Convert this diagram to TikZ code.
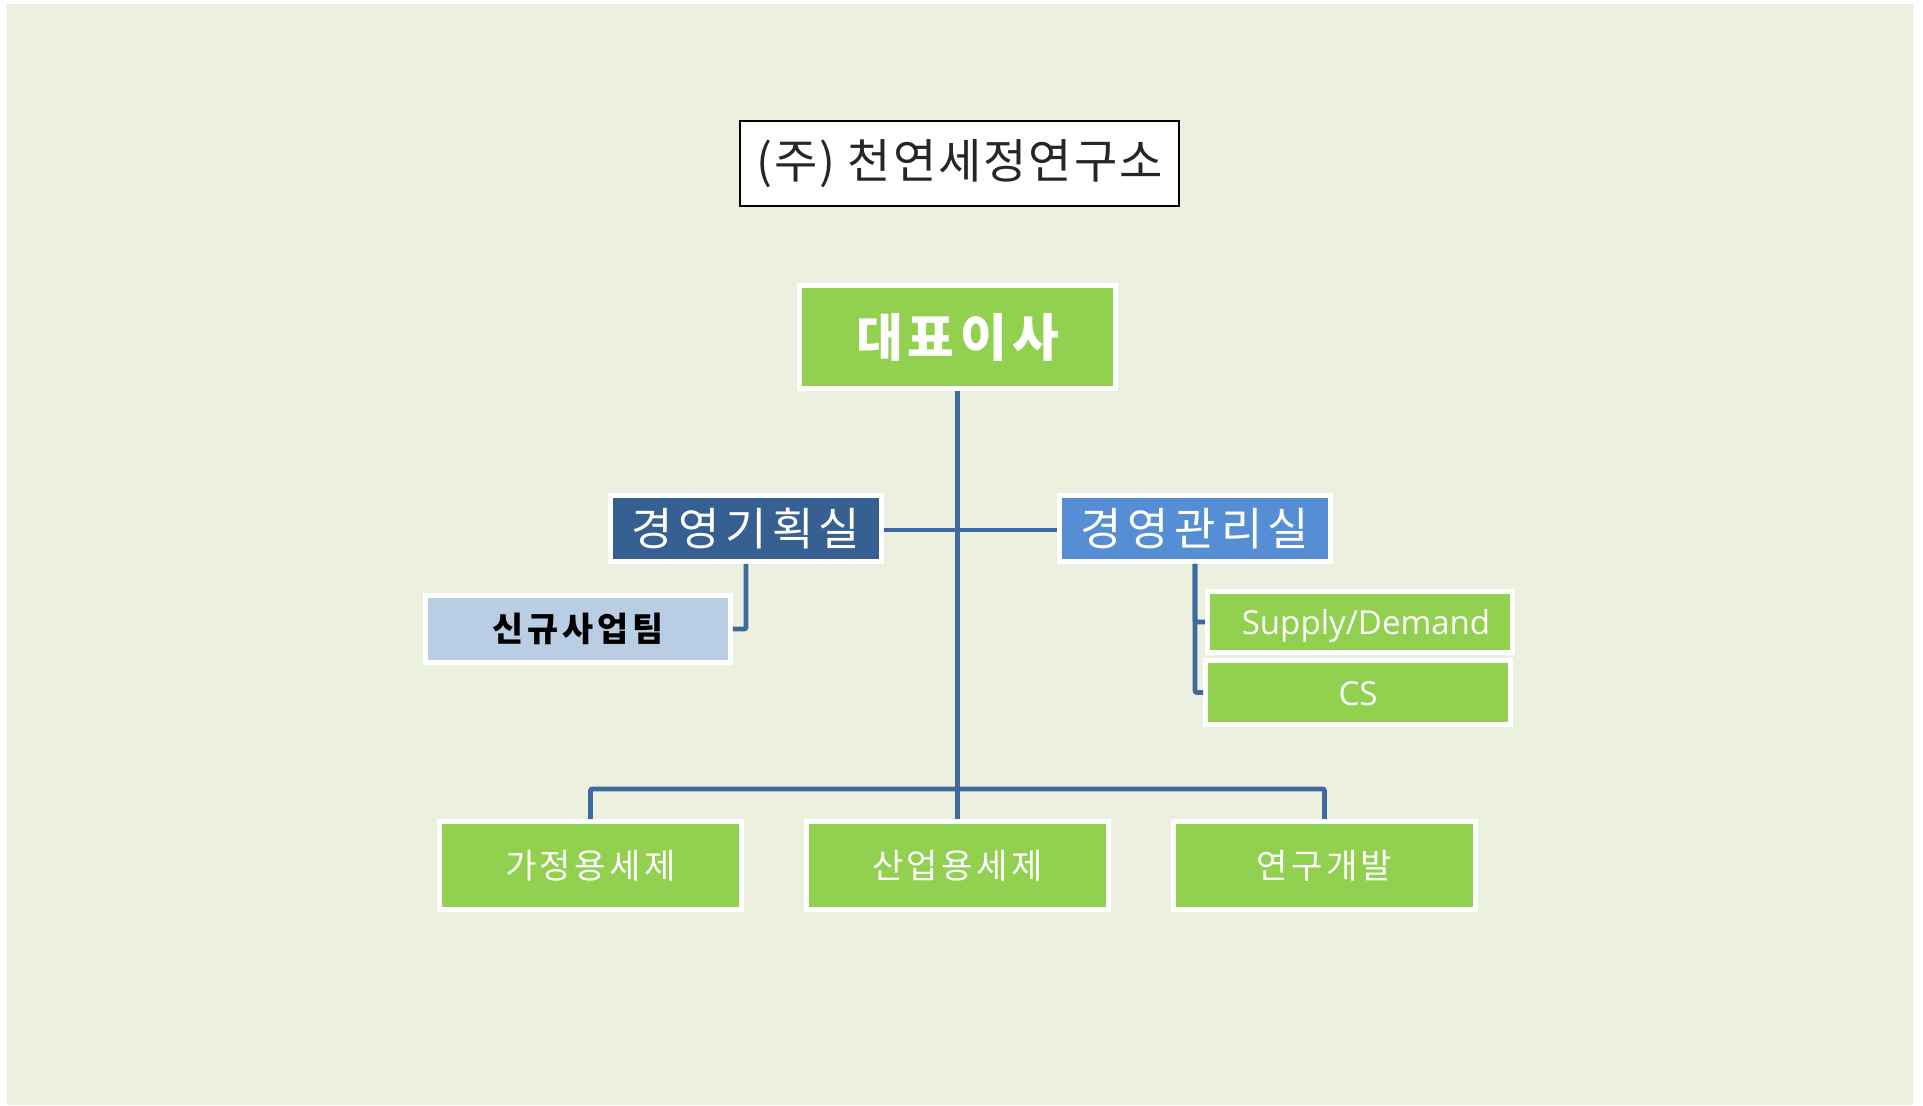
\documentclass[tikz,border=0pt]{standalone}
\usepackage{fontspec}
\setmainfont{Noto Sans CJK KR}
\newfontfamily\latinfont{Open Sans}
\usetikzlibrary{positioning}
\definecolor{bgolive}{HTML}{EBF1DE}
\definecolor{officegreen}{HTML}{92D050}
\definecolor{darkblue}{HTML}{376092}
\definecolor{midblue}{HTML}{558ED5}
\definecolor{paleblue}{HTML}{B9CDE5}
\definecolor{linkblue}{HTML}{3E6A9F}
\definecolor{titlegray}{HTML}{262626}

\begin{document}
\begin{tikzpicture}[x=0.01cm,y=-0.01cm,
  orgbox/.style={draw=white,line width=1.3pt,inner sep=0pt},
  greenbox/.style={orgbox,fill=officegreen,text=white},
  smallbox/.style={greenbox,minimum width=3.02cm,minimum height=0.88cm,font=\fontsize{9.7pt}{11pt}\selectfont\addfontfeatures{LetterSpace=10}},
  latinbox/.style={greenbox,minimum width=3.05cm,text height=0.714em,text depth=0pt,font=\latinfont\fontsize{9.4pt}{11pt}\selectfont},
  link/.style={draw=linkblue,line width=1.4pt,rounded corners=0.6pt}]
\useasboundingbox (0,0) rectangle (1923,1105);
\fill[bgolive] (7,4) rectangle (1913,1105);
\node[draw=black,line width=0.6pt,fill=white,text=titlegray,minimum width=4.39cm,minimum height=0.85cm,inner sep=0pt,font=\fontsize{13.4pt}{15pt}\selectfont\addfontfeatures{LetterSpace=4}] (firma) at (959.5,163.5) {(주) 천연세정연구소};
\node[greenbox,minimum width=3.16cm,minimum height=1.03cm,font=\bfseries\fontsize{14.5pt}{16pt}\selectfont\addfontfeatures{LetterSpace=10}] (ceo) at (957.5,337) {대표이사};
\node[orgbox,fill=darkblue,text=white,minimum width=2.71cm,minimum height=0.66cm,font=\fontsize{12.8pt}{14pt}\selectfont\addfontfeatures{LetterSpace=12}] (planung) at (746,528.5) {경영기획실};
\node[orgbox,fill=midblue,text=white,minimum width=2.71cm,minimum height=0.66cm,font=\fontsize{12.8pt}{14pt}\selectfont\addfontfeatures{LetterSpace=12}] (verwaltung) at (1195,528.5) {경영관리실};
\node[orgbox,fill=paleblue,text=black,minimum width=3.05cm,minimum height=0.67cm,font=\bfseries\fontsize{9.6pt}{11pt}\selectfont\addfontfeatures{LetterSpace=12}] (neugeschaeft) at (578,629) {신규사업팀};
\node[latinbox,minimum height=0.61cm] (supply) at (1360,622) {\hspace{0.12cm}Supply/Demand};
\node[latinbox,minimum height=0.64cm] (cs) at (1358,692.5) {CS};
\node[smallbox] (haushalt) at (590.5,865.5) {가정용세제};
\node[smallbox] (industrie) at (957.5,865.5) {산업용세제};
\node[smallbox] (forschung) at (1324.5,865.5) {연구개발};
\coordinate (kreuz) at (957.5,530);
\coordinate (verteiler) at (957.5,789);
\draw[link] (ceo.south) -- (industrie.north);
\draw[link] (planung.east |- kreuz) -- (verwaltung.west |- kreuz);
\draw[link] (haushalt.north) |- (verteiler) -| (forschung.north);
\draw[link] (planung.south) |- (neugeschaeft.east);
\draw[link] (verwaltung.south) |- (cs.west);
\draw[link] (verwaltung.south) |- (supply.west);
\end{tikzpicture}
\end{document}
